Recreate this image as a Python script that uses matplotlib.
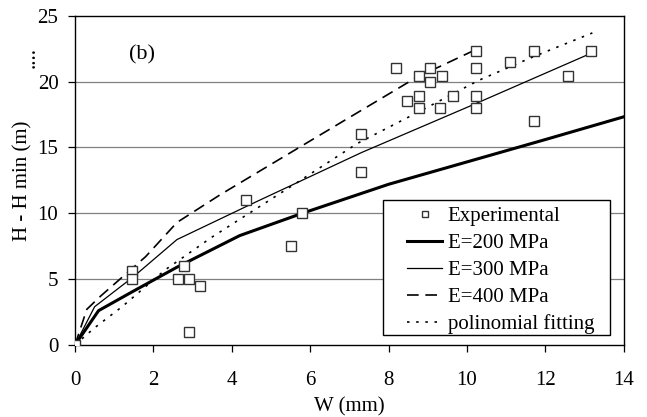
import matplotlib
matplotlib.use("Agg")
import matplotlib.pyplot as plt
from matplotlib.patches import Rectangle

plt.rcParams['font.family'] = ['Liberation Serif', 'DejaVu Serif']
plt.rcParams['font.size'] = 15

# Experimental points (W in mm, H - Hmin in m)
exp_w = [0, 1.45, 1.45, 2.78, 2.63, 2.9, 3.2, 2.9, 4.36, 5.5, 5.8, 7.3, 7.3,
         8.19, 8.78, 9.06, 9.06, 8.78, 8.47, 8.78, 9.3, 9.36, 9.64,
         10.23, 10.23, 10.23, 10.23, 11.1, 11.7, 12.58, 11.7, 13.16]
exp_h = [0, 5.6, 5.0, 6.0, 5.0, 5.0, 4.5, 1.0, 11.0, 7.5, 10.0, 16.0, 13.1,
         21.0, 20.4, 21.0, 20.0, 18.9, 18.5, 18.0, 18.0, 20.4, 18.9,
         22.3, 21.0, 18.9, 18.0, 21.5, 22.3, 20.4, 17.0, 22.3]

# model curves
e200_w = [0, 0.6, 1.5, 2.6, 4.2, 5.8, 8.0, 10.0, 12.0, 14.2]
e200_h = [0, 2.6, 4.1, 5.9, 8.3, 10.0, 12.2, 13.9, 15.6, 17.5]

e300_w = [0, 0.5, 1.5, 2.6, 4.5, 7.3, 10.2, 13.2]
e300_h = [0, 2.9, 5.2, 8.0, 10.7, 14.6, 18.3, 22.2]

e400_w = [0, 0.3, 0.65, 1.8, 2.6, 3.7, 6.0, 8.7, 10.2]
e400_h = [0, 2.7, 3.7, 6.7, 9.3, 11.4, 15.5, 20.3, 22.4]

poly_w = [0, 0.5, 1.2, 2.3, 3.5, 5.7, 7.2, 8.7, 10.3, 11.7, 13.2]
poly_h = [0, 1.3, 2.9, 5.7, 8.2, 12.4, 15.3, 17.6, 20.1, 21.9, 23.7]

fig = plt.figure(figsize=(6.47, 4.17), dpi=100)
ax = fig.add_axes([0.116, 0.173, 0.848, 0.789])

# horizontal grid
for yv in [5, 10, 15, 20]:
    ax.axhline(yv, color='#808080', lw=0.9, zorder=0)

ax.plot(exp_w, exp_h, 's', ms=7, mfc='white', mec='#333333', mew=1.0,
        ls='none', label='Experimental', zorder=5)
ax.plot(e200_w, e200_h, '-', color='black', lw=2.2, label='E=200 MPa')
ax.plot(e300_w, e300_h, '-', color='black', lw=0.9, label='E=300 MPa')
ax.plot(e400_w, e400_h, color='black', lw=1.2, dashes=(7, 4), label='E=400 MPa')
ax.plot(poly_w, poly_h, color='black', lw=1.2, dashes=(1.5, 4),
        label='polinomial fitting')

ax.set_xlim(0, 14)
ax.set_ylim(0, 25)
ax.set_xticks(range(0, 15, 2))
ax.set_yticks(range(0, 26, 5))
ax.tick_params(direction='out', length=5, width=0.9, labelsize=15)
ax.tick_params(axis='x', pad=14)
ax.tick_params(axis='y', pad=7)
for s in ax.spines.values():
    s.set_linewidth(1.0)

ax.set_xlabel('W (mm)', fontsize=15, labelpad=5)
fig.text(0.036, 0.566, 'H - H min (m)', rotation=90, ha='center', va='center',
         fontsize=15)
fig.text(0.046, 0.863, '....', rotation=90, ha='center', va='center',
         fontsize=15)

ax.text(1.71, 22.0, '(b)', fontsize=16, ha='center', va='center')

# legend frame drawn as a box, entries placed inside it
ax.add_patch(Rectangle((0.561, 0.030), 0.4135, 0.411, transform=ax.transAxes,
                       facecolor='white', edgecolor='black', lw=1.0, zorder=6))
leg = ax.legend(loc='upper left', bbox_to_anchor=(0.605, 0.42),
                frameon=False, fontsize=15, handlelength=1.7,
                borderpad=0, labelspacing=0.35, handletextpad=0.25,
                borderaxespad=0, markerscale=0.7)
leg.set_zorder(7)

fig.savefig('out.png', dpi=100)
